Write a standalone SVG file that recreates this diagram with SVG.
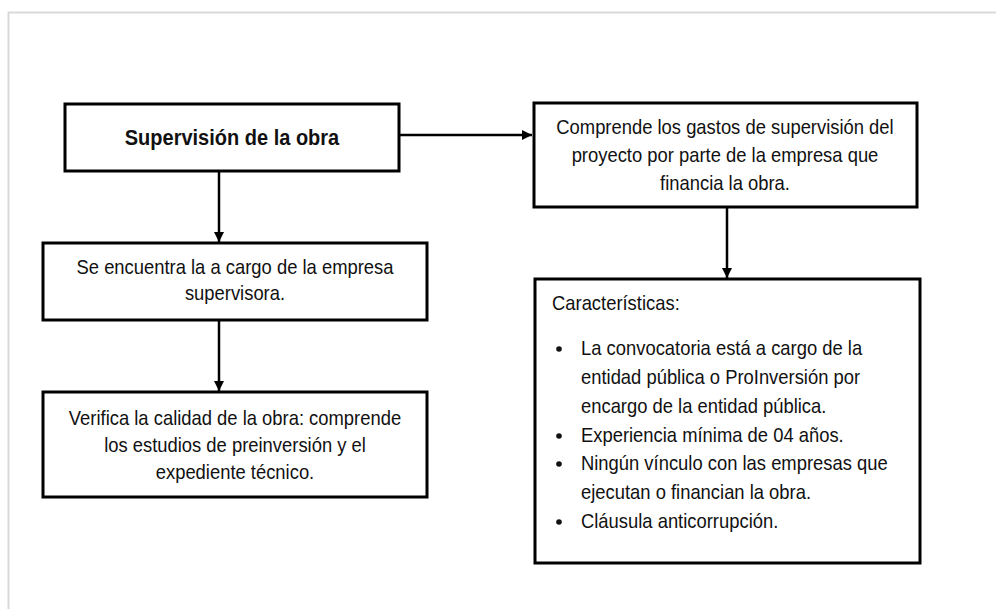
<svg xmlns="http://www.w3.org/2000/svg" width="996" height="609" viewBox="0 0 996 609">
<style>
.box{fill:#fff;stroke:#000;stroke-width:3}
.t{font-family:"Liberation Sans",Arial,sans-serif;font-size:18.4px;fill:#111}
.c{text-anchor:middle}
.b{font-weight:bold;font-size:20px}
.conn line{stroke:#000;stroke-width:2.5}
</style>
<defs>
<marker id="ah" viewBox="0 0 10 10" refX="10" refY="5" markerWidth="4" markerHeight="4" markerUnits="strokeWidth" orient="auto">
<path d="M0,0 L10,5 L0,10 z" fill="#000"/>
</marker>
</defs>
<rect width="996" height="609" fill="#fff"/>
<path d="M8.5,609 V12.5 H996" fill="none" stroke="#d9d9d9" stroke-width="2"/>
<g class="conn">
<line x1="399" y1="135" x2="532" y2="135" marker-end="url(#ah)"/>
<line x1="219" y1="171" x2="219" y2="242" marker-end="url(#ah)"/>
<line x1="219" y1="320" x2="219" y2="391" marker-end="url(#ah)"/>
<line x1="727" y1="207" x2="727" y2="278" marker-end="url(#ah)"/>
</g>
<g id="n1">
<rect class="box" x="65" y="104" width="334" height="67"/>
<text class="t c b" x="232" y="145" transform="matrix(1,0,0,1.1,0,-14.5)">Supervisión de la obra</text>
</g>
<g id="n2">
<rect class="box" x="534" y="103" width="383" height="104"/>
<text class="t c" x="725" y="134" transform="matrix(1,0,0,1.08,0,-10.72)">Comprende los gastos de supervisión del</text>
<text class="t c" x="725" y="162" transform="matrix(1,0,0,1.08,0,-12.96)">proyecto por parte de la empresa que</text>
<text class="t c" x="725" y="190" transform="matrix(1,0,0,1.08,0,-15.2)">financia la obra.</text>
</g>
<g id="n3">
<rect class="box" x="43" y="243" width="384" height="77"/>
<text class="t c" x="235" y="274" transform="matrix(1,0,0,1.08,0,-21.92)">Se encuentra la a cargo de la empresa</text>
<text class="t c" x="235" y="300" transform="matrix(1,0,0,1.08,0,-24)">supervisora.</text>
</g>
<g id="n4">
<rect class="box" x="43" y="392" width="384" height="105"/>
<text class="t c" x="235" y="425" transform="matrix(1,0,0,1.08,0,-34)">Verifica la calidad de la obra: comprende</text>
<text class="t c" x="235" y="452" transform="matrix(1,0,0,1.08,0,-36.16)">los estudios de preinversión y el</text>
<text class="t c" x="235" y="479" transform="matrix(1,0,0,1.08,0,-38.32)">expediente técnico.</text>
</g>
<g id="n5">
<rect class="box" x="535" y="279" width="385" height="284"/>
<text class="t" x="552" y="310" transform="matrix(1,0,0,1.08,0,-24.8)">Características:</text>
<circle cx="559" cy="349" r="2.8" fill="#111"/>
<circle cx="559" cy="436" r="2.8" fill="#111"/>
<circle cx="559" cy="464" r="2.8" fill="#111"/>
<circle cx="559" cy="522" r="2.8" fill="#111"/>
<text class="t" x="581" y="355" transform="matrix(1,0,0,1.08,0,-28.4)">La convocatoria está a cargo de la</text>
<text class="t" x="581" y="384" transform="matrix(1,0,0,1.08,0,-30.72)">entidad pública o ProInversión por</text>
<text class="t" x="581" y="413" transform="matrix(1,0,0,1.08,0,-33.04)">encargo de la entidad pública.</text>
<text class="t" x="581" y="442" transform="matrix(1,0,0,1.08,0,-35.36)">Experiencia mínima de 04 años.</text>
<text class="t" x="581" y="470" transform="matrix(1,0,0,1.08,0,-37.6)">Ningún vínculo con las empresas que</text>
<text class="t" x="581" y="499" transform="matrix(1,0,0,1.08,0,-39.92)">ejecutan o financian la obra.</text>
<text class="t" x="581" y="528" transform="matrix(1,0,0,1.08,0,-42.24)">Cláusula anticorrupción.</text>
</g>
</svg>
